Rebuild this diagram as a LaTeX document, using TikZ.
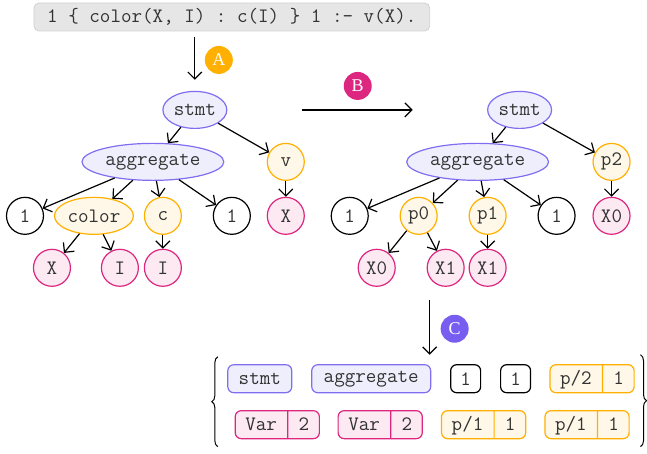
\documentclass[tikz,border=0pt]{standalone}
\usepackage{fontspec}
\setmainfont{Liberation Serif}
\usetikzlibrary{arrows.meta,shapes.geometric,shapes.multipart,decorations.pathreplacing}
\definecolor{asink}{HTML}{333333}
\definecolor{aspurple}{HTML}{7F6FF0}
\definecolor{aspurplefill}{HTML}{EFEEFC}
\definecolor{asorange}{HTML}{FFB000}
\definecolor{asorangefill}{HTML}{FFF8E8}
\definecolor{aspink}{HTML}{DC267F}
\definecolor{aspinkfill}{HTML}{FCE9F2}
\definecolor{asbadgec}{HTML}{785EF0}
\definecolor{ascodefill}{HTML}{E6E6E6}
\definecolor{ascodeline}{HTML}{D2D2D2}
\newcommand{\astfont}{\ttfamily\fontsize{20.5}{24}\selectfont}
\newcommand{\tokpart}[2]{\makebox[#2]{\rule[-8pt]{0pt}{28pt}#1}}
\tikzset{
  astnode/.style={line width=1.2pt,inner sep=0pt,font=\astfont,text=asink},
  astterm/.style={astnode,circle,draw=black,fill=white,minimum size=37pt},
  astpred/.style={astnode,circle,draw=asorange,fill=asorangefill,minimum size=37pt},
  astvar/.style={astnode,circle,draw=aspink,fill=aspinkfill,minimum size=37pt},
  astrule/.style={astnode,ellipse,draw=aspurple,fill=aspurplefill,minimum height=37pt},
  astedge/.style={draw=black,line width=1.2pt,-{Straight Barb[length=7pt,width=14pt]}},
  stagebadge/.style={circle,minimum size=28pt,inner sep=0pt,text=white,
    font=\rmfamily\fontsize{18}{20}\selectfont},
  tokbox/.style={rounded corners=6pt,line width=1.2pt,inner sep=0pt,
    minimum height=28pt,font=\astfont,text=asink},
  toksplit/.style={tokbox,rectangle split,rectangle split horizontal,
    rectangle split parts=2},
  tokbrace/.style={decorate,decoration={brace,amplitude=6pt},line width=1pt},
}
\begin{document}
\begin{tikzpicture}[x=1pt,y=-1pt]
        \node[draw=ascodeline,fill=ascodefill,rounded corners=5pt,line width=0.8pt,
          minimum width=396pt,minimum height=28pt,font=\astfont,text=asink] (src) at (232,17)
          {1 \{ color(X, I) : c(I) \} 1 :- v(X).};
        % input tree
        \node[astrule,minimum width=64pt] (lstmt) at (195,110) {stmt};
        \node[astrule,minimum width=142pt] (lagg) at (153,162) {aggregate};
        \node[astpred] (lv) at (286,162) {v};
        \node[astterm] (lk1) at (25,216) {1};
        \node[astpred,ellipse,minimum width=79pt] (lcolor) at (94,216) {color};
        \node[astpred] (lc) at (163,216) {c};
        \node[astterm] (lk2) at (232,216) {1};
        \node[astvar] (lvx) at (286,216) {X};
        \node[astvar] (lcolorx) at (52,268) {X};
        \node[astvar] (lcolori) at (120,268) {I};
        \node[astvar] (lci) at (163,268) {I};
        \foreach \a/\b in {lstmt/lagg,lstmt/lv,lagg/lk1,lagg/lcolor,lagg/lc,lagg/lk2,
          lv/lvx,lcolor/lcolorx,lcolor/lcolori,lc/lci}
          {\draw[astedge] (\a)--(\b);}
        % renamed tree
        \node[astrule,minimum width=64pt] (rstmt) at (520,110) {stmt};
        \node[astrule,minimum width=142pt] (ragg) at (478,162) {aggregate};
        \node[astpred] (rp2) at (612,162) {p2};
        \node[astterm] (rk1) at (350,216) {1};
        \node[astpred] (rp0) at (419,216) {p0};
        \node[astpred] (rp1) at (488,216) {p1};
        \node[astterm] (rk2) at (557,216) {1};
        \node[astvar] (rp2x) at (612,216) {X0};
        \node[astvar] (rp0x) at (377,268) {X0};
        \node[astvar] (rp0y) at (446,268) {X1};
        \node[astvar] (rp1x) at (488,268) {X1};
        \foreach \a/\b in {rstmt/ragg,rstmt/rp2,ragg/rk1,ragg/rp0,ragg/rp1,ragg/rk2,
          rp2/rp2x,rp0/rp0x,rp0/rp0y,rp1/rp1x}
          {\draw[astedge] (\a)--(\b);}
        % stages
        \draw[astedge,shorten <=6pt,shorten >=11pt] (lstmt|-src.south)--(lstmt.north);
        \coordinate (bfrom) at (302,110);
        \coordinate (bto) at (413,110);
        \draw[astedge] (bfrom)--(bto);
        \coordinate (cfrom) at (430,300);
        \coordinate (cto) at (430,355);
        \draw[astedge] (cfrom)--(cto);
        \node[stagebadge,fill=asorange] (ba) at (219,60) {A};
        \node[stagebadge,fill=aspink] (bb) at (358,86) {B};
        \node[stagebadge,fill=asbadgec] (bc) at (455,329) {C};
        % token sequence
        \node[tokbox,draw=aspurple,fill=aspurplefill,minimum width=64pt] (tstmt) at (260,379) {stmt};
        \node[tokbox,draw=aspurple,fill=aspurplefill,minimum width=119pt] (tagg) at (371.5,379) {aggregate};
        \foreach \i/\x in {1/466,2/516}
          {\node[tokbox,draw=black,fill=white,minimum width=30pt] (tone\i) at (\x,379) {1};}
        \node[toksplit,draw=asorange,fill=asorangefill] (tptwo) at (592.5,379)
          {\tokpart{p/2}{52pt}\nodepart{two}\tokpart{1}{31pt}};
        \foreach \i/\x in {1/277.5,2/380.5}
          {\node[toksplit,draw=aspink,fill=aspinkfill] (tvar\i) at (\x,425)
            {\tokpart{Var}{52pt}\nodepart{two}\tokpart{2}{31pt}};}
        \foreach \i/\x in {1/484,2/587.5}
          {\node[toksplit,draw=asorange,fill=asorangefill] (tpone\i) at (\x,425)
            {\tokpart{p/1}{52pt}\nodepart{two}\tokpart{1}{31pt}};}
        \coordinate (lbbot) at (218,447);
        \coordinate (lbtop) at (218,357);
        \coordinate (rbtop) at (641,355);
        \coordinate (rbbot) at (641,447);
        \draw[tokbrace] (lbbot)--(lbtop);
        \draw[tokbrace] (rbtop)--(rbbot);
        \path[use as bounding box] (0,0) rectangle (647,454);
      \end{tikzpicture}
\end{document}
